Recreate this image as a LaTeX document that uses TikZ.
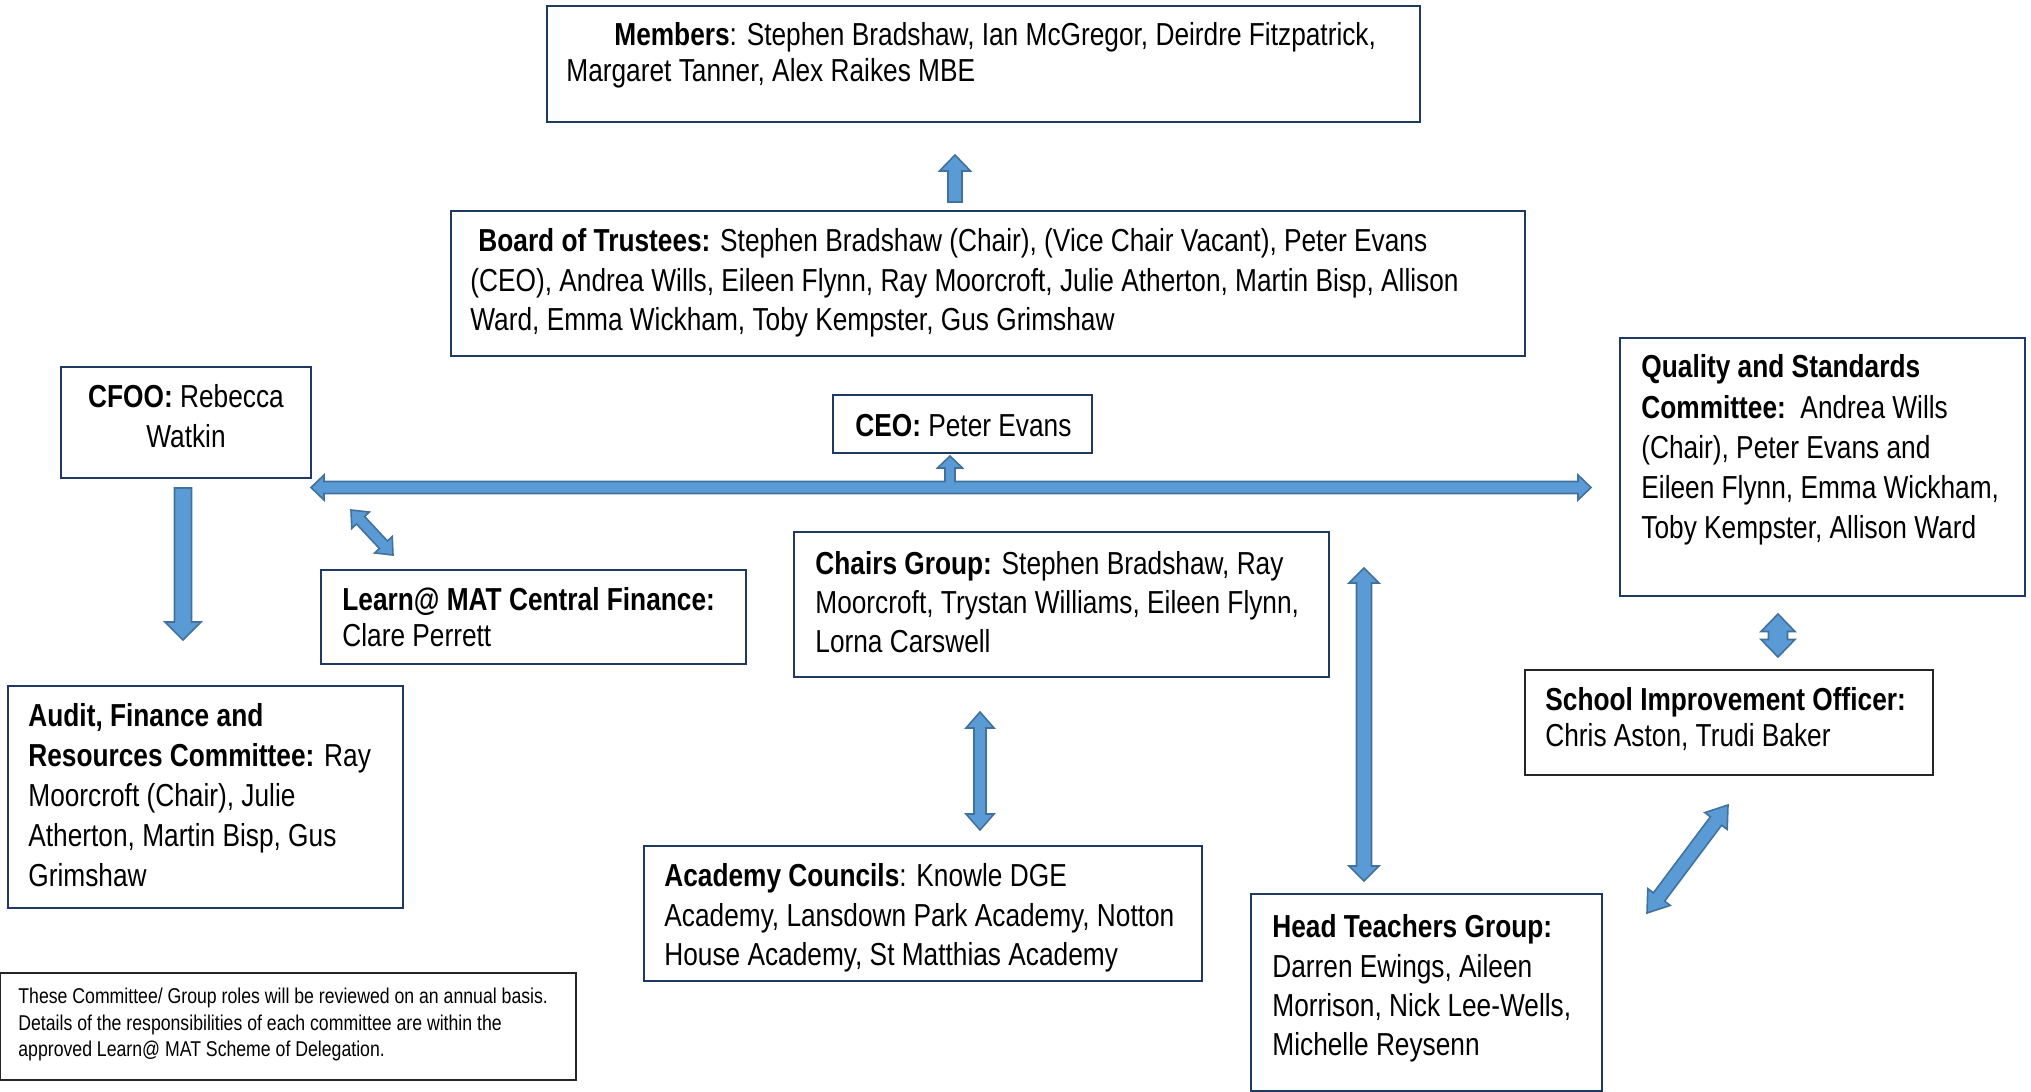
\documentclass[tikz,border=0pt]{standalone}
\usepackage{fontspec}
\setmainfont{Liberation Sans}[FakeStretch=0.826]
\usetikzlibrary{calc,fit}
\definecolor{navy}{HTML}{1F3864}
\definecolor{afill}{HTML}{5B9BD5}
\definecolor{aline}{HTML}{41719C}
\tikzset{
  box/.style={draw=navy, line width=1pt, inner sep=0pt},
  blackbox/.style={draw=black!85, line width=1.1pt, inner sep=0pt},
  txt/.style={inner sep=0pt, align=left, anchor=north west},
  blockarrow/.style={fill=afill, draw=aline, line width=0.8pt, line join=miter},
}
\newcommand\fs[1]{\fontsize{15.9}{#1}\selectfont}
% double block arrow: #1 end A, #2 end B, #3 half shaft, #4 half head, #5 head length
\newcommand\dblarrow[5]{%
  \coordinate (da1) at ($(#1)!#5!(#2)$);
  \coordinate (da2) at ($(#2)!#5!(#1)$);
  \path[blockarrow] (#1) -- ($(da1)!#4!90:(#2)$) -- ($(da1)!#3!90:(#2)$)
    -- ($(da2)!#3!-90:(#1)$) -- ($(da2)!#4!-90:(#1)$) -- (#2)
    -- ($(da2)!#4!90:(#1)$) -- ($(da2)!#3!90:(#1)$)
    -- ($(da1)!#3!-90:(#2)$) -- ($(da1)!#4!-90:(#2)$) -- cycle;}
% single block arrow: #1 tail, #2 tip
\newcommand\sglarrow[5]{%
  \coordinate (sa) at ($(#2)!#5!(#1)$);
  \path[blockarrow] ($(#1)!#3!90:(#2)$) -- ($(sa)!#3!90:(#2)$) -- ($(sa)!#4!90:(#2)$)
    -- (#2) -- ($(sa)!#4!-90:(#2)$) -- ($(sa)!#3!-90:(#2)$) -- ($(#1)!#3!-90:(#2)$) -- cycle;}
\begin{document}
\begin{tikzpicture}[x=0.5pt,y=-0.5pt]
\useasboundingbox (0,0) rectangle (2031,1092);
\fill[white] (0,0) rectangle (2031,1092);

% boxes
\node[box, fit={(547,6) (1420,122)}] (members) {};
\node[box, fit={(451,211) (1525,356)}] (board) {};
\node[box, fit={(833,395) (1092,453)}] (ceo) {};
\node[box, fit={(61,367) (311,478)}] (cfoo) {};
\node[box, fit={(1620,338) (2025,596)}] (quality) {};
\node[box, fit={(321,570) (746,664)}] (learn) {};
\node[box, fit={(794,532) (1329,677)}] (chairs) {};
\node[blackbox, fit={(1525,670) (1933,775)}] (sio) {};
\node[box, fit={(8,686) (403,908)}] (audit) {};
\node[box, fit={(644,846) (1202,981)}] (academy) {};
\node[box, fit={(1251,894) (1602,1091)}] (head) {};
\node[blackbox, line width=1.3pt, fit={(0,973) (576,1080)}] (note) {};

% texts
\node[txt, font=\fs{18}] (membersT) at (566,22.5)
  {\hspace*{24pt}\textbf{Members}: Stephen Bradshaw, Ian McGregor, Deirdre Fitzpatrick,\\
   Margaret Tanner, Alex Raikes MBE};
\node[txt, font=\fs{19.75}] (boardT) at (470,228.5)
  {\hspace*{4pt}\textbf{Board of Trustees:} Stephen Bradshaw (Chair), (Vice Chair Vacant), Peter Evans\\
   (CEO), Andrea Wills, Eileen Flynn, Ray Moorcroft, Julie Atherton, Martin Bisp, Allison\\
   Ward, Emma Wickham, Toby Kempster, Gus Grimshaw};
\node[txt, align=center, anchor=north, font=\fs{20}] (cfooT) at (186,384.5)
  {\textbf{CFOO:} Rebecca\\ Watkin};
\node[txt, font=\fs{18}] (ceoT) at (855,413.5) {\textbf{CEO:} Peter Evans};
\node[txt, font=\fs{20.1}] (qualityT) at (1641,354.5)
  {\textbf{Quality and Standards}\\
   \textbf{Committee:}\ \ Andrea Wills\\
   (Chair), Peter Evans and\\
   Eileen Flynn, Emma Wickham,\\
   Toby Kempster, Allison Ward};
\node[txt, font=\fs{18}] (learnT) at (342,587.5)
  {\textbf{Learn@ MAT Central Finance:}\\ Clare Perrett};
\node[txt, font=\fs{19.4}] (chairsT) at (815,551.5)
  {\textbf{Chairs Group:} Stephen Bradshaw, Ray\\
   Moorcroft, Trystan Williams, Eileen Flynn,\\
   Lorna Carswell};
\node[txt, font=\fs{18}] (sioT) at (1545,687.5)
  {\textbf{School Improvement Officer:}\\ Chris Aston, Trudi Baker};
\node[txt, font=\fs{19.9}] (auditT) at (28,703.5)
  {\textbf{Audit, Finance and}\\
   \textbf{Resources Committee:} Ray\\
   Moorcroft (Chair), Julie\\
   Atherton, Martin Bisp, Gus\\
   Grimshaw};
\node[txt, font=\fs{19.75}] (academyT) at (664,863.5)
  {\textbf{Academy Councils}: Knowle DGE\\
   Academy, Lansdown Park Academy, Notton\\
   House Academy, St Matthias Academy};
\node[txt, font=\fs{19.6}] (headT) at (1272,914.5)
  {\textbf{Head Teachers Group:}\\
   Darren Ewings, Aileen\\
   Morrison, Nick Lee-Wells,\\
   Michelle Reysenn};
\node[txt, font=\fontsize{10.7}{13.25}\selectfont] (noteT) at (18,988)
  {These Committee/ Group roles will be reviewed on an annual basis.\\
   Details of the responsibilities of each committee are within the\\
   approved Learn@ MAT Scheme of Delegation.};

% arrow end points
\coordinate (m1) at (955,202);  \coordinate (m2) at (955,155);
\coordinate (c1) at (183,488);  \coordinate (c2) at (183,640);
\coordinate (l1) at (351,510);  \coordinate (l2) at (393,555);
\coordinate (a1) at (980,712);  \coordinate (a2) at (980,830);
\coordinate (h1) at (1364,568); \coordinate (h2) at (1364,881);
\coordinate (q1) at (1778,614); \coordinate (q2) at (1778,657);
\coordinate (s1) at (1728,805); \coordinate (s2) at (1647,913);
\coordinate (hL) at (311,487.5); \coordinate (hR) at (1591,487.5);
\coordinate (hC) at (950,456);

% arrows
\sglarrow{m1}{m2}{3.5pt}{7.75pt}{8pt}
\sglarrow{c1}{c2}{4.25pt}{9pt}{9pt}
\dblarrow{l1}{l2}{2.75pt}{6pt}{7pt}
\dblarrow{a1}{a2}{3pt}{7pt}{8pt}
\dblarrow{h1}{h2}{3.75pt}{7.5pt}{7.5pt}
\dblarrow{q1}{q2}{4.75pt}{8.5pt}{8.75pt}
\dblarrow{s1}{s2}{3.5pt}{7pt}{10pt}

% horizontal double arrow with branch up to CEO
\path[blockarrow] (hL) -- ($(hL)+(13,-12.5)$) -- ($(hL)+(13,-6)$)
  -- ($(hC)+(-5,25.5)$) -- ($(hC)+(-5,12)$) -- ($(hC)+(-12.5,12)$) -- (hC)
  -- ($(hC)+(12.5,12)$) -- ($(hC)+(5,12)$) -- ($(hC)+(5,25.5)$)
  -- ($(hR)+(-13,-6)$) -- ($(hR)+(-13,-12.5)$) -- (hR)
  -- ($(hR)+(-13,12.5)$) -- ($(hR)+(-13,6)$)
  -- ($(hL)+(13,6)$) -- ($(hL)+(13,12.5)$) -- cycle;
\end{tikzpicture}
\end{document}
